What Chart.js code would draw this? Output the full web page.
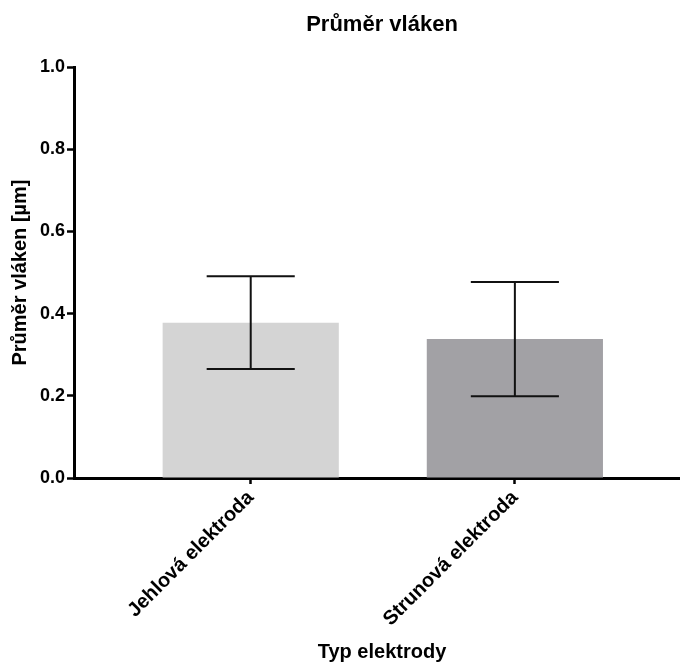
<!DOCTYPE html>
<html>
<head>
<meta charset="utf-8">
<script src="https://cdn.jsdelivr.net/npm/chart.js@4.4.1/dist/chart.umd.min.js"></script>
<style>
  html, body { margin: 0; padding: 0; background: #fff; overflow: hidden; }
  #wrap { width: 690px; height: 666px; }
</style>
</head>
<body>
<div id="wrap"><canvas id="mycanvas" width="690" height="666"></canvas></div>
<script>
// fibre diameter per electrode type, mean and SD in µm
var electrodes = ["Jehlová elektroda", "Strunová elektroda"];
var meanDiameter = [0.378, 0.338];
var sdDiameter = [0.113, 0.139];
var yTicks = [0.0, 0.2, 0.4, 0.6, 0.8, 1.0];
var barColors = ["#d4d4d4", "#a2a1a5"];

Chart.defaults.font.family = "'Liberation Sans', Arial, sans-serif";
Chart.defaults.color = "#000";

// mean +/- SD whiskers on top of the bars
var errorBars = {
  id: "errorBars",
  afterDatasetsDraw: function (chart) {
    var ctx = chart.ctx;
    var xs = chart.scales.x, ys = chart.scales.y;
    var meta = chart.getDatasetMeta(0);
    ctx.save();
    ctx.strokeStyle = "#111";
    ctx.lineWidth = 2;
    for (var i = 0; i < meanDiameter.length; i++) {
      var px = xs.getPixelForValue(i);
      var top = ys.getPixelForValue(meanDiameter[i] + sdDiameter[i]);
      var bot = ys.getPixelForValue(meanDiameter[i] - sdDiameter[i]);
      var half = meta.data[i].width / 4;
      ctx.beginPath();
      ctx.moveTo(px, top); ctx.lineTo(px, bot);
      ctx.moveTo(px - half, top); ctx.lineTo(px + half, top);
      ctx.moveTo(px - half, bot); ctx.lineTo(px + half, bot);
      ctx.stroke();
    }
    ctx.restore();
  }
};

var points = [];
for (var i = 0; i < electrodes.length; i++) {
  points.push({ x: i, y: meanDiameter[i] });
}

var ctx = document.getElementById("mycanvas");
var barGraph = new Chart(ctx, {
  type: "bar",
  data: {
    datasets: [{
      label: "Průměr vláken",
      data: points,
      backgroundColor: barColors,
      borderWidth: 0,
      categoryPercentage: 1,
      barPercentage: 0.667
    }]
  },
  options: {
    responsive: false,
    animation: false,
    layout: { padding: 0 },
    plugins: {
      legend: { display: false },
      tooltip: { enabled: false },
      title: {
        display: true,
        text: "Průměr vláken",
        fullSize: false,
        font: { size: 22, weight: "bold" },
        padding: { top: 12, bottom: 28.6 }
      }
    },
    scales: {
      x: {
        type: "linear",
        z: 1,
        offset: false,
        min: -0.669,
        max: 1.663,
        afterBuildTicks: function (scale) {
          scale.ticks = electrodes.map(function (_, i) { return { value: i }; });
        },
        afterFit: function (scale) {
          scale.height = 188;
          scale.paddingLeft = 0;
          scale.paddingRight = 0;
        },
        ticks: {
          autoSkip: false,
          minRotation: 45,
          maxRotation: 45,
          padding: 2,
          font: { size: 20, weight: "bold" },
          callback: function (value, index) { return electrodes[index]; }
        },
        grid: {
          offset: false,
          drawOnChartArea: false,
          drawTicks: true,
          tickLength: 6,
          tickWidth: 2.5,
          tickColor: "#000"
        },
        border: { display: true, color: "#000", width: 3 },
        title: {
          display: true,
          text: "Typ elektrody",
          font: { size: 20, weight: "bold" },
          padding: { top: 4, bottom: 2 }
        }
      },
      y: {
        z: 1,
        min: 0,
        max: 1,
        afterBuildTicks: function (scale) {
          scale.ticks = yTicks.map(function (v) { return { value: v }; });
        },
        afterFit: function (scale) {
          scale.width = 74;
        },
        ticks: {
          padding: 2,
          font: { size: 18, weight: "bold" },
          callback: function (value) { return value.toFixed(1); }
        },
        grid: {
          drawOnChartArea: false,
          drawTicks: true,
          tickLength: 7,
          tickWidth: 2.5,
          tickColor: "#000"
        },
        border: { display: true, color: "#000", width: 3 },
        title: {
          display: true,
          text: "Průměr vláken [µm]",
          font: { size: 20, weight: "bold" },
          padding: { top: 8, bottom: 4 }
        }
      }
    }
  },
  plugins: [errorBars]
});
</script>
</body>
</html>
